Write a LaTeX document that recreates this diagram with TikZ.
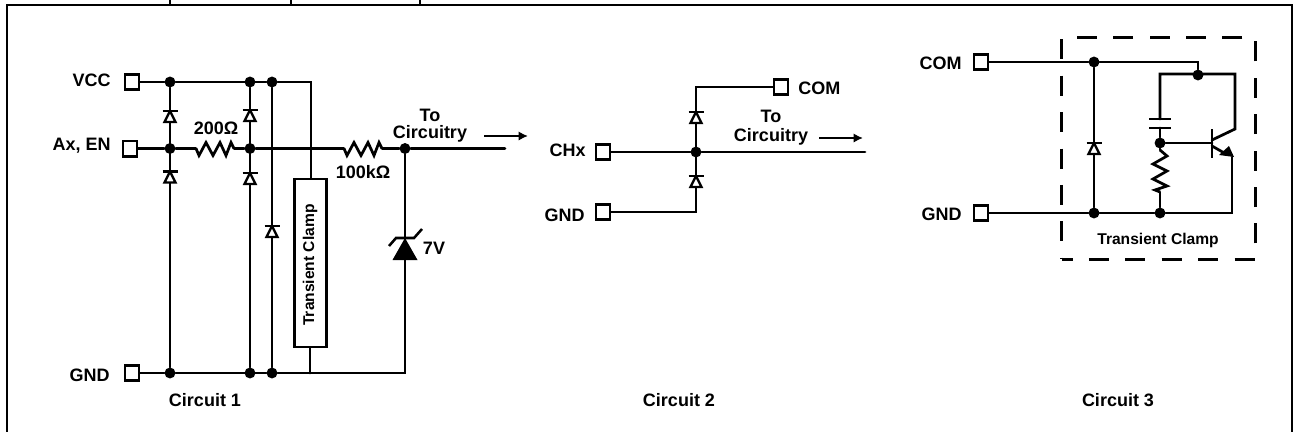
\documentclass[tikz,border=0pt]{standalone}
\usepackage{fontspec}
\setmainfont{Liberation Sans}
\usetikzlibrary{arrows.meta, positioning}

\tikzset{
    wire/.style={line width=2.05pt, line cap=round, line join=miter},
    frameline/.style={line width=2.1pt},
    dotnode/.style={circle, fill=black, inner sep=0pt, minimum size=8.2pt},
    pad/.style={draw, line width=2.1pt, fill=white, inner sep=0pt, minimum width=10.6pt, minimum height=11.4pt},
    lbl/.style={font=\fontsize{13.5}{15}\selectfont\bfseries, inner sep=0pt, align=center},
    smalllbl/.style={font=\fontsize{11.7}{14}\selectfont\bfseries, inner sep=0pt},
    flow/.style={-{Latex[length=7pt,width=7pt]}, line width=1.6pt},
    % diode, bar on top
    diodesym/.pic={
        \draw[line width=1.8pt, fill=white, line join=miter] (-5.5,11) -- (0,0) -- (5.5,11) -- cycle;
        \draw[line width=2.1pt] (-7.5,0) -- (7.5,0);
    },
    hres/.pic={
        \draw[wire, line cap=butt] (-19,0) -- (-16,7) -- (-9,-6) -- (-2,7) -- (5,-6) -- (11,7) -- (16,-6) -- (19,0);
        \coordinate (-w) at (-19,0);
        \coordinate (-e) at (19,0);
    },
    vres/.pic={
        \draw[wire, line cap=butt] (0,-21) -- (7,-15) -- (-7,-7) -- (7,0) -- (-7,8) -- (7,15) -- (-5,19) -- (0,21);
        \coordinate (-n) at (0,-21);
        \coordinate (-s) at (0,21);
    }
}

\begin{document}
\begin{tikzpicture}[x=0.75pt, y=-0.75pt]
\useasboundingbox (0,0) rectangle (1293,432);

% Frame on top of the figure
\draw[frameline] (7,432) -- (7,5) -- (1292,5) -- (1292,432);
\foreach \x in {170,291,420} \draw[line width=1.3pt] (\x,0) -- (\x,5);

% Circuit 1
\node[pad] (vcc) at (132,82) {};
\node[pad] (ax) at (130,148.5) {};
\node[pad] (gndA) at (132,373) {};
\node[lbl, anchor=east] (vcclbl) at (111,80.5) {VCC};
\node[lbl, anchor=east] (axlbl) at (111,145.5) {Ax, EN};
\node[lbl, anchor=east] (gndAlbl) at (110,375) {GND};

\node[dotnode] (v1) at (170,82) {};
\node[dotnode] (v2) at (250,82) {};
\node[dotnode] (v3) at (272,82) {};
\node[dotnode] (a1) at (170,148.5) {};
\node[dotnode] (a2) at (250,148.5) {};
\node[dotnode] (out1) at (405,148.5) {};
\node[dotnode] (g1) at (170,373) {};
\node[dotnode] (g2) at (250,373) {};
\node[dotnode] (g3) at (272,373) {};
\coordinate (vbend) at (311,82);
\coordinate (gbend) at (310,373);
\coordinate (gend) at (405,373);
\coordinate (out1end) at (505,148.5);

\node[draw, line width=2.1pt, minimum width=24pt, minimum height=126pt, inner sep=0pt] (clampA) at (310.5,263) {};
\node[smalllbl, rotate=90] (clampAlbl) at (310,265) {Transient Clamp};

\pic (rone) at (215,148.5) {hres};
\pic (rtwo) at (363,148.5) {hres};

\draw[wire] (vcc) -- (v1) -- (v3) -- (vbend) -- (vbend |- clampA.north);
\draw[wire] (ax) -- (a1) -- (rone-w);
\draw[wire] (rone-e) -- (a2) -- (rtwo-w);
\draw[wire] (rtwo-e) -- (out1) -- (out1end);
\draw[wire] (gndA) -- (g1) -- (g3) -- (gend) -- (out1);
\draw[wire] (v1) -- (g1);
\draw[wire] (v2) -- (g2);
\draw[wire] (v3) -- (g3);
\draw[wire] (clampA.south -| gbend) -- (gbend);

\pic at (170,111) {diodesym};
\pic at (170,171.5) {diodesym};
\pic at (250,110) {diodesym};
\pic at (250,173) {diodesym};
\pic at (272,226) {diodesym};

% Zener
\fill (405,238) -- (417.5,260) -- (392.5,260) -- cycle;
\draw[line width=1.9pt] (389,246) -- (396,238) -- (414,238) -- (422,229);

\node[lbl] (rlblA) at (216,128.5) {200Ω};
\node[lbl] (rlblB) at (363,172.5) {100kΩ};
\node[lbl] (toA) at (430,115) {To};
\node[lbl] (circA) at (430,134) {Circuitry};
\node[lbl] (zlbl) at (434,248) {7V};
\coordinate (arrA) at (484,136);
\coordinate (arrAend) at (528,136);
\draw[flow] (arrA) -- (arrAend);
\node[lbl] (capA) at (205,400) {Circuit 1};

% Circuit 2
\node[pad] (com) at (781,87) {};
\node[pad] (chx) at (603,152) {};
\node[pad] (gndB) at (603,212) {};
\node[lbl, anchor=west] (comlbl) at (798,88) {COM};
\node[lbl, anchor=east] (chxlbl) at (586,150) {CHx};
\node[lbl, anchor=east] (gndBlbl) at (585,215) {GND};
\node[dotnode] (b1) at (696,152) {};
\coordinate (cbend) at (696,87);
\coordinate (gbendB) at (696,212);
\coordinate (out2end) at (865,152);

\draw[wire] (com) -- (cbend) -- (gbendB) -- (gndB);
\draw[wire] (chx) -- (b1) -- (out2end);
\pic at (696,112) {diodesym};
\pic at (696,176) {diodesym};

\node[lbl] (toB) at (771,116) {To};
\node[lbl] (circB) at (771,137) {Circuitry};
\coordinate (arrB) at (819,138);
\coordinate (arrBend) at (863,138);
\draw[flow] (arrB) -- (arrBend);
\node[lbl] (capB) at (679,400) {Circuit 2};

% Circuit 3
\node[draw, dash pattern=on 15pt off 12.3pt, dash phase=7pt, line width=2.1pt, minimum width=145pt, minimum height=166pt, inner sep=0pt] (clampB) at (1158.5,148.5) {};
\node[pad] (comC) at (981,62) {};
\node[pad] (gndC) at (981,213) {};
\node[lbl, anchor=east] (comClbl) at (962,63) {COM};
\node[lbl, anchor=east] (gndClbl) at (962,214.5) {GND};
\node[smalllbl] (clampBlbl) at (1158,240) {Transient Clamp};

\node[dotnode] (c1) at (1094,62) {};
\node[dotnode] (c2) at (1198,75) {};
\node[dotnode] (c3) at (1160,143) {};
\node[dotnode] (d1) at (1094,213) {};
\node[dotnode] (d2) at (1160,213) {};
\coordinate (ctop) at (1198,62);
\coordinate (leftb) at (1160,74);
\coordinate (rightb) at (1235,74);
\coordinate (coll) at (1235,129);
\coordinate (colb) at (1212,140);
\coordinate (emend) at (1232,213);
\coordinate (emtip) at (1232,157);
\coordinate (capt) at (1160,119);
\coordinate (capb) at (1160,128);
\coordinate (baseb) at (1212,143);

\pic (rthree) at (1160,171) {vres};

\draw[wire] (comC) -- (c1) -- (ctop) -- (c2);
\draw[wire] (capt) -- (leftb) -- (rightb) -- (coll) -- (colb);
\draw[wire] (capb) -- (c3) -- (rthree-n);
\draw[wire] (rthree-s) -- (d2);
\draw[wire] (c3) -- (baseb);
\draw[wire] (c1) -- (d1);
\draw[wire] (gndC) -- (d1) -- (d2) -- (emend) -- (emtip);
\draw[line width=2.1pt] (1149,119) -- (1171,119);
\draw[line width=2.1pt] (1149,128) -- (1171,128);
\draw[line width=2.1pt] (1212,129) -- (1212,158);
\draw[wire] (1212,146) -- (1226,154);
\fill (1234,157) -- (1219,155) -- (1229,146) -- cycle;
\pic at (1094,143) {diodesym};

\node[lbl] (capC) at (1118,400) {Circuit 3};
\end{tikzpicture}
\end{document}
